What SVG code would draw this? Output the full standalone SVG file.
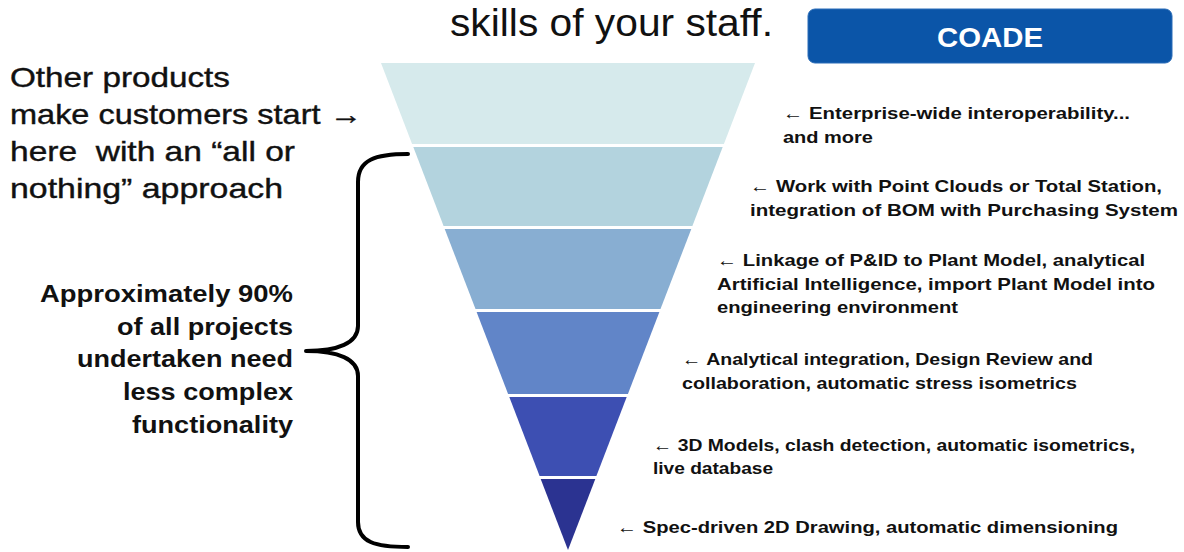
<svg xmlns="http://www.w3.org/2000/svg" width="1184" height="552" viewBox="0 0 1184 552">
  <style>
    .bg { fill: #ffffff; }
    .layer { stroke: none; }
    .title { font-family: "Liberation Sans", Arial, sans-serif; font-size: 38px; fill: #111; }
    .big { font-family: "Liberation Sans", Arial, sans-serif; font-size: 28px; fill: #111; stroke: #111; stroke-width: 0.4px; }
    .brk { font-family: "Liberation Sans", Arial, sans-serif; font-size: 24px; font-weight: bold; fill: #111; text-anchor: end; }
    .lbl { font-family: "Liberation Sans", Arial, sans-serif; font-size: 17px; font-weight: bold; fill: #111; }
    .badge { fill: #0b55a8; stroke: #2a6cb8; stroke-width: 1; }
    .badgeText { font-family: "Liberation Sans", Arial, sans-serif; font-size: 28px; font-weight: bold; fill: #ffffff; text-anchor: middle; }
    .bracket { fill: none; stroke: #000; stroke-width: 4; stroke-linecap: round; stroke-linejoin: round; }
  </style>
  <rect class="bg" x="0" y="0" width="1184" height="552"/>

  <g id="title">
    <text class="title" x="450" y="36" textLength="323" lengthAdjust="spacingAndGlyphs">skills of your staff.</text>
  </g>

  <g id="coade-badge">
    <rect class="badge" x="808" y="9" width="364" height="54" rx="7" ry="7"/>
    <text class="badgeText" x="990" y="47" textLength="106" lengthAdjust="spacingAndGlyphs">COADE</text>
  </g>

  <g id="funnel">
    <g id="layer1"><polygon class="layer" fill="#d6eaec" points="381,63 755,63 723.9,144 412.1,144"/></g>
    <g id="layer2"><polygon class="layer" fill="#b3d3de" points="413.3,147 722.7,147 692.4,226 443.6,226"/></g>
    <g id="layer3"><polygon class="layer" fill="#88aed2" points="444.7,229 691.3,229 660.5,309 475.5,309"/></g>
    <g id="layer4"><polygon class="layer" fill="#6185c8" points="476.6,312 659.4,312 627.9,394 508.1,394"/></g>
    <g id="layer5"><polygon class="layer" fill="#3d4fb2" points="509.3,397 626.7,397 596.4,476 539.6,476"/></g>
    <g id="layer6"><polygon class="layer" fill="#2b3391" points="540.7,479 595.3,479 568,550"/></g>
  </g>

  <g id="other-products-note">
    <text class="big" x="10" y="87" textLength="220" lengthAdjust="spacingAndGlyphs">Other products</text>
    <text class="big" x="10" y="124" textLength="352" lengthAdjust="spacingAndGlyphs">make customers start →</text>
    <text class="big" x="10" y="161" textLength="285" lengthAdjust="spacingAndGlyphs" xml:space="preserve">here  with an “all or</text>
    <text class="big" x="10" y="198" textLength="273" lengthAdjust="spacingAndGlyphs">nothing” approach</text>
  </g>

  <g id="ninety-percent-note">
    <text class="brk" x="293" y="302" textLength="253" lengthAdjust="spacingAndGlyphs">Approximately 90%</text>
    <text class="brk" x="293" y="335" textLength="176" lengthAdjust="spacingAndGlyphs">of all projects</text>
    <text class="brk" x="293" y="367" textLength="216" lengthAdjust="spacingAndGlyphs">undertaken need</text>
    <text class="brk" x="293" y="400" textLength="170" lengthAdjust="spacingAndGlyphs">less complex</text>
    <text class="brk" x="293" y="433" textLength="161" lengthAdjust="spacingAndGlyphs">functionality</text>
  </g>

  <g id="connectors">
    <path class="bracket" d="M 408 154 C 375 154 358 160 358 182 L 358 326 C 358 343 338 351 306 351 C 338 351 358 359 358 376 L 358 522 C 358 542 375 547 408 547"/>
  </g>

  <g id="label1">
    <text class="lbl" x="783" y="119" textLength="347" lengthAdjust="spacingAndGlyphs">← Enterprise-wide interoperability...</text>
    <text class="lbl" x="783" y="143" textLength="90" lengthAdjust="spacingAndGlyphs">and more</text>
  </g>
  <g id="label2">
    <text class="lbl" x="750" y="192" textLength="412" lengthAdjust="spacingAndGlyphs">← Work with Point Clouds or Total Station,</text>
    <text class="lbl" x="750" y="216" textLength="428" lengthAdjust="spacingAndGlyphs">integration of BOM with Purchasing System</text>
  </g>
  <g id="label3">
    <text class="lbl" x="717" y="266" textLength="428" lengthAdjust="spacingAndGlyphs">← Linkage of P&amp;ID to Plant Model, analytical</text>
    <text class="lbl" x="717" y="290" textLength="438" lengthAdjust="spacingAndGlyphs">Artificial Intelligence, import Plant Model into</text>
    <text class="lbl" x="717" y="313" textLength="241" lengthAdjust="spacingAndGlyphs">engineering environment</text>
  </g>
  <g id="label4">
    <text class="lbl" x="682" y="365" textLength="411" lengthAdjust="spacingAndGlyphs">← Analytical integration, Design Review and</text>
    <text class="lbl" x="682" y="389" textLength="395" lengthAdjust="spacingAndGlyphs">collaboration, automatic stress isometrics</text>
  </g>
  <g id="label5">
    <text class="lbl" x="653" y="451" textLength="482" lengthAdjust="spacingAndGlyphs">← 3D Models, clash detection, automatic isometrics,</text>
    <text class="lbl" x="653" y="474" textLength="120" lengthAdjust="spacingAndGlyphs">live database</text>
  </g>
  <g id="label6">
    <text class="lbl" x="617" y="533" textLength="501" lengthAdjust="spacingAndGlyphs">← Spec-driven 2D Drawing, automatic dimensioning</text>
  </g>
</svg>
